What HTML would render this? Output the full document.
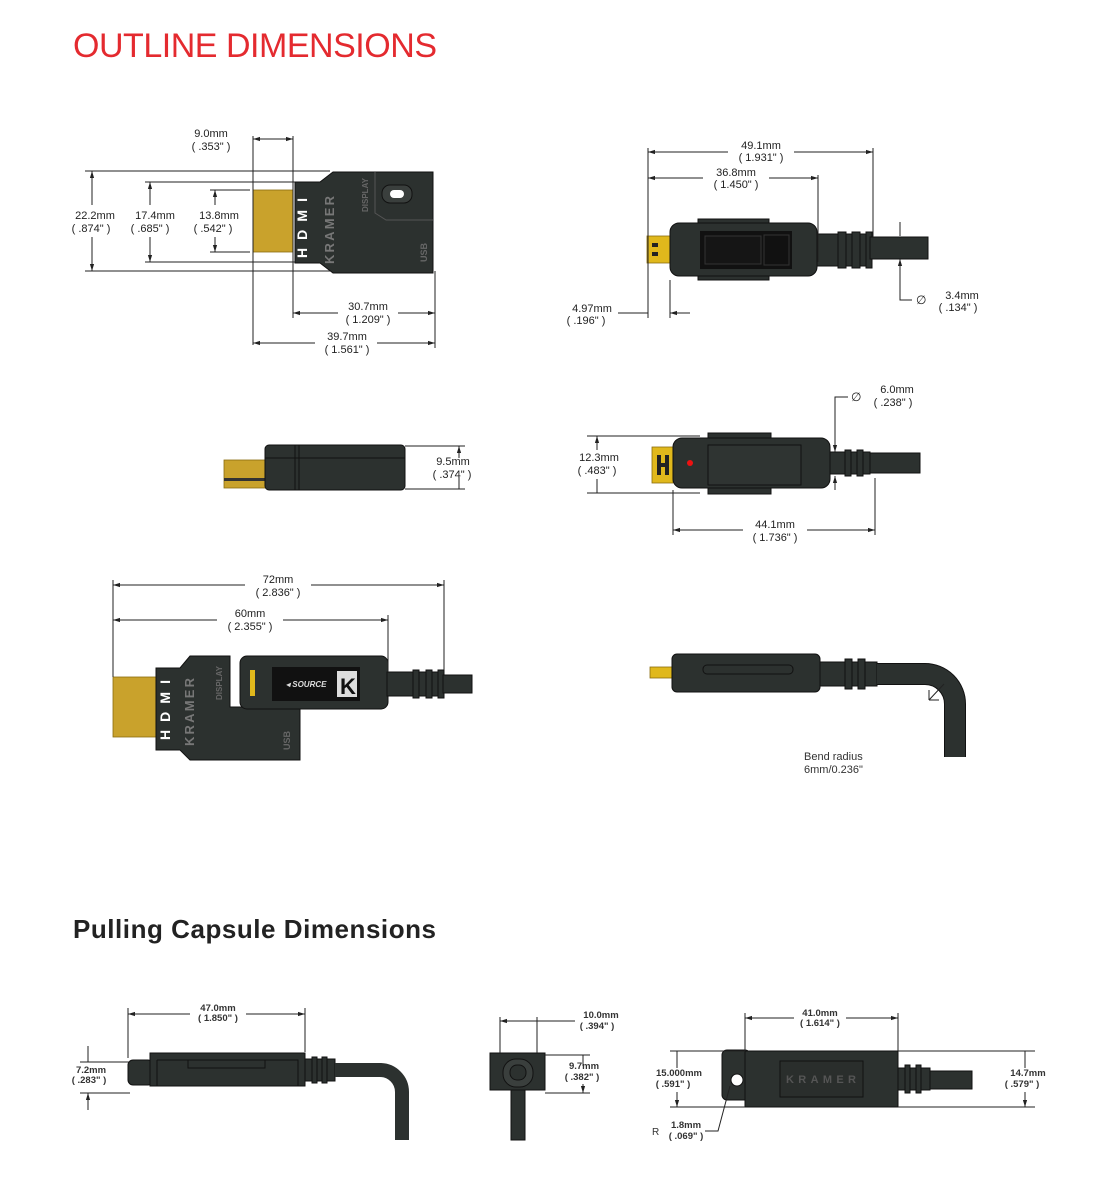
<!DOCTYPE html>
<html><head><meta charset="utf-8"><style>
html,body{margin:0;padding:0;background:#fff;}
svg{display:block;}
text{font-family:"Liberation Sans",sans-serif;fill:#222;}
.d{font-size:11px;text-anchor:middle;}
.s{font-size:9.5px;text-anchor:middle;font-weight:bold;fill:#333;}
.l{stroke:#222;stroke-width:1;fill:none;}
.b{fill:#2c312f;stroke:#111;stroke-width:1;}
.g{fill:#c9a22c;stroke:#8a6c10;stroke-width:0.8;}
</style></head><body>
<svg width="1109" height="1200" viewBox="0 0 1109 1200" xmlns="http://www.w3.org/2000/svg">
<defs>
<marker id="a" viewBox="0 0 10 10" refX="10" refY="5" markerWidth="7" markerHeight="7" orient="auto-start-reverse"><path d="M0,2 L10,5 L0,8 z" fill="#222"/></marker>
</defs>
<text x="73" y="57" style="font-size:34px;fill:#e42a2f" textLength="364">OUTLINE DIMENSIONS</text>
<text x="73" y="938" style="font-size:26px;font-weight:bold;fill:#222" textLength="363">Pulling Capsule Dimensions</text>

<!-- Diagram 1 -->
<rect x="253" y="190" width="40" height="62" class="g"/>
<path class="b" d="M295,182 H320 L333,172 H433 V273 H333 L320,263 H295 Z"/>
<path d="M375,172 V213 L386,220 H433" class="l" style="stroke:#555"/>
<rect x="382" y="185" width="30" height="18" rx="8" fill="#3a3f3d" stroke="#111"/>
<rect x="390" y="190" width="14" height="8" rx="4" fill="#fff"/>
<text x="0" y="0" transform="translate(307,258) rotate(-90)" style="font-size:14px;font-weight:bold;fill:#fff" textLength="60">HDMI</text>
<text x="0" y="0" transform="translate(334,264) rotate(-90)" style="font-size:13px;font-weight:bold;fill:#777" textLength="68">KRAMER</text>
<text x="0" y="0" transform="translate(368,212) rotate(-90)" style="font-size:8px;font-weight:bold;fill:#666">DISPLAY</text>
<text x="0" y="0" transform="translate(427,262) rotate(-90)" style="font-size:9px;font-weight:bold;fill:#666">USB</text>
<path class="l" d="M85,171 H330 M85,271 H330 M145,182 H295 M145,262 H295 M210,190 H250 M210,252 H250 M253,136 V345 M293,136 V318 M435,271 V348"/>
<path class="l" d="M92,171 V205 M92,237 V271" marker-start="url(#a)" marker-end="url(#a)"/>
<path class="l" d="M150,182 V205 M150,237 V262" marker-start="url(#a)" marker-end="url(#a)"/>
<path class="l" d="M215,190 V205 M215,237 V252" marker-start="url(#a)" marker-end="url(#a)"/>
<line x1="293" y1="313" x2="435" y2="313" class="l" marker-start="url(#a)" marker-end="url(#a)"/>
<line x1="253" y1="343" x2="435" y2="343" class="l" marker-start="url(#a)" marker-end="url(#a)"/>
<line x1="253" y1="139" x2="293" y2="139" class="l" marker-start="url(#a)" marker-end="url(#a)"/>
<text class="d" x="211" y="137">9.0mm</text><text class="d" x="211" y="150">( .353" )</text>
<text class="d" x="95" y="219">22.2mm</text><text class="d" x="91" y="232">( .874" )</text>
<text class="d" x="155" y="219">17.4mm</text><text class="d" x="150" y="232">( .685" )</text>
<text class="d" x="219" y="219">13.8mm</text><text class="d" x="213" y="232">( .542" )</text>
<rect x="338" y="304" width="60" height="26" fill="#fff"/>
<text class="d" x="368" y="310">30.7mm</text><text class="d" x="368" y="323">( 1.209" )</text>
<rect x="315" y="334" width="62" height="26" fill="#fff"/>
<text class="d" x="347" y="340">39.7mm</text><text class="d" x="347" y="353">( 1.561" )</text>

<!-- Diagram 2 -->
<rect x="647" y="236" width="23" height="27" class="g" style="fill:#e0b81c"/>
<rect x="652" y="243" width="6" height="4" fill="#222"/><rect x="652" y="252" width="6" height="4" fill="#222"/>
<rect x="698" y="219" width="71" height="61" class="b"/>
<rect x="670" y="223" width="147" height="53" rx="9" class="b"/>
<rect x="700" y="231" width="92" height="38" fill="#111"/>
<rect x="705" y="236" width="56" height="28" fill="#151515" stroke="#333"/>
<rect x="764" y="235" width="25" height="30" fill="#111" stroke="#333"/>
<path class="b" d="M817,234 H870 V266 H817 Z"/>
<rect x="838" y="232" width="8" height="36" class="b"/><rect x="852" y="232" width="8" height="36" class="b"/><rect x="866" y="232" width="6" height="36" class="b"/>
<rect x="870" y="237" width="58" height="22" class="b"/>
<path class="l" d="M648,148 V318 M670,280 V318 M818,175 V262 M873,148 V238"/>
<line x1="648" y1="152" x2="873" y2="152" class="l" marker-start="url(#a)" marker-end="url(#a)"/>
<line x1="648" y1="178" x2="818" y2="178" class="l" marker-start="url(#a)" marker-end="url(#a)"/>
<rect x="728" y="142" width="66" height="24" fill="#fff"/>
<text class="d" x="761" y="149">49.1mm</text><text class="d" x="761" y="161">( 1.931" )</text>
<rect x="703" y="168" width="66" height="24" fill="#fff"/>
<text class="d" x="736" y="176">36.8mm</text><text class="d" x="736" y="188">( 1.450" )</text>
<path class="l" d="M618,313 H648 M690,313 H670" marker-end="url(#a)"/>
<text class="d" x="592" y="312">4.97mm</text><text class="d" x="586" y="324">( .196" )</text>
<path class="l" d="M900,222 V236 M900,275 V259" marker-end="url(#a)"/>
<path class="l" d="M900,275 V300 H912"/>
<text x="916" y="304" style="font-size:12px">∅</text>
<text class="d" x="962" y="299">3.4mm</text><text class="d" x="958" y="311">( .134" )</text>

<!-- Diagram 3 -->
<rect x="224" y="460" width="42" height="28" class="g"/>
<rect x="224" y="478" width="42" height="3" fill="#333"/>
<rect x="265" y="445" width="140" height="45" rx="4" class="b"/>
<path d="M265,458 H405 M295,445 V490 M299,445 V490" stroke="#111"/>
<path class="l" d="M405,446 H465 M405,489 H465"/>
<path class="l" d="M459,446 V458 M459,489 V477" marker-start="url(#a)"/>
<text class="d" x="453" y="465">9.5mm</text><text class="d" x="452" y="478">( .374" )</text>

<!-- Diagram 4 -->
<rect x="652" y="447" width="21" height="36" class="g" style="fill:#e0b81c"/>
<rect x="657" y="455" width="4" height="20" fill="#222"/><rect x="657" y="463" width="12" height="4" fill="#222"/><rect x="665" y="455" width="4" height="20" fill="#222"/>
<rect x="708" y="433" width="63" height="61" class="b"/>
<rect x="673" y="438" width="157" height="50" rx="9" class="b"/>
<rect x="708" y="445" width="93" height="40" fill="#2f3432" stroke="#111"/>
<circle cx="690" cy="463" r="3" fill="#e11"/>
<rect x="830" y="452" width="40" height="22" class="b"/>
<rect x="845" y="450" width="6" height="26" class="b"/><rect x="857" y="450" width="6" height="26" class="b"/>
<rect x="870" y="453" width="50" height="20" class="b"/>
<path class="l" d="M587,436 H700 M587,493 H700 M673,490 V535 M875,478 V535"/>
<path class="l" d="M597,436 V450 M597,493 V479" marker-start="url(#a)"/>
<text class="d" x="599" y="461">12.3mm</text><text class="d" x="597" y="474">( .483" )</text>
<line x1="673" y1="530" x2="875" y2="530" class="l" marker-start="url(#a)" marker-end="url(#a)"/>
<rect x="743" y="519" width="64" height="26" fill="#fff"/>
<text class="d" x="775" y="528">44.1mm</text><text class="d" x="775" y="541">( 1.736" )</text>
<path class="l" d="M848,397 H835 V452" marker-end="url(#a)"/>
<path class="l" d="M835,490 V476" marker-end="url(#a)"/>
<text x="851" y="401" style="font-size:12px">∅</text>
<text class="d" x="897" y="393">6.0mm</text><text class="d" x="893" y="406">( .238" )</text>

<!-- Diagram 5 -->
<rect x="113" y="677" width="43" height="60" class="g"/>
<path class="b" d="M156,668 H180 L190,656 H230 V707 H300 V760 H190 L180,750 H156 Z"/>
<rect x="240" y="656" width="148" height="53" rx="7" class="b"/>
<rect x="272" y="667" width="88" height="34" fill="#111"/>
<rect x="250" y="670" width="5" height="26" fill="#e0b81c"/>
<text x="286" y="687" style="font-size:8px;font-weight:bold;font-style:italic;fill:#ddd">◂ SOURCE</text>
<rect x="337" y="671" width="20" height="26" fill="#ddd"/>
<text x="340" y="694" style="font-size:22px;font-weight:bold;fill:#111">K</text>
<text x="0" y="0" transform="translate(170,740) rotate(-90)" style="font-size:14px;font-weight:bold;fill:#fff" textLength="60">HDMI</text>
<text x="0" y="0" transform="translate(194,746) rotate(-90)" style="font-size:13px;font-weight:bold;fill:#777" textLength="68">KRAMER</text>
<text x="0" y="0" transform="translate(222,700) rotate(-90)" style="font-size:8px;font-weight:bold;fill:#666">DISPLAY</text>
<text x="0" y="0" transform="translate(290,750) rotate(-90)" style="font-size:9px;font-weight:bold;fill:#666">USB</text>
<rect x="387" y="672" width="56" height="24" class="b"/>
<rect x="413" y="670" width="6" height="28" class="b"/><rect x="426" y="670" width="6" height="28" class="b"/><rect x="438" y="670" width="6" height="28" class="b"/>
<rect x="443" y="675" width="29" height="18" class="b"/>
<path class="l" d="M113,580 V677 M388,615 V672 M444,580 V670"/>
<line x1="113" y1="585" x2="444" y2="585" class="l" marker-start="url(#a)" marker-end="url(#a)"/>
<line x1="113" y1="620" x2="388" y2="620" class="l" marker-start="url(#a)" marker-end="url(#a)"/>
<rect x="245" y="574" width="66" height="26" fill="#fff"/>
<text class="d" x="278" y="583">72mm</text><text class="d" x="278" y="596">( 2.836" )</text>
<rect x="217" y="609" width="66" height="26" fill="#fff"/>
<text class="d" x="250" y="617">60mm</text><text class="d" x="250" y="630">( 2.355" )</text>

<!-- Diagram 6 -->
<rect x="650" y="667" width="22" height="11" class="g" style="fill:#e0b81c"/>
<rect x="672" y="654" width="148" height="38" rx="5" class="b"/>
<rect x="703" y="665" width="90" height="9" rx="4" fill="none" stroke="#111"/>
<rect x="820" y="662" width="57" height="24" class="b"/>
<rect x="845" y="659" width="7" height="30" class="b"/><rect x="858" y="659" width="7" height="30" class="b"/>
<path d="M877,674 H925 A30,30 0 0 1 955,704 V757" stroke="#111" stroke-width="22" fill="none"/>
<path d="M877,674 H925 A30,30 0 0 1 955,704 V757" stroke="#2c312f" stroke-width="20" fill="none"/>
<path class="l" d="M944,684 L929,700 M929,700 V690 M929,700 H939"/>
<text x="804" y="760" style="font-size:11px;fill:#333">Bend radius</text>
<text x="804" y="773" style="font-size:11px;fill:#333">6mm/0.236"</text>

<!-- Capsule 1 -->
<rect x="128" y="1060" width="25" height="25" rx="5" class="b"/>
<rect x="150" y="1053" width="155" height="33" class="b"/>
<path d="M157,1060 H298 V1086 M157,1060 V1086" stroke="#111" fill="none"/>
<path d="M188,1060 V1068 H265 V1060" stroke="#111" fill="none"/>
<rect x="305" y="1059" width="30" height="22" class="b"/>
<rect x="312" y="1057" width="5" height="26" class="b"/><rect x="322" y="1057" width="5" height="26" class="b"/>
<path d="M335,1070 H380 A22,22 0 0 1 402,1092 V1140" stroke="#2c312f" stroke-width="14" fill="none"/>
<path class="l" d="M128,1008 V1058 M305,1008 V1052 M80,1062 H130 M80,1093 H130"/>
<line x1="128" y1="1014" x2="305" y2="1014" class="l" marker-start="url(#a)" marker-end="url(#a)"/>
<rect x="190" y="1004" width="56" height="22" fill="#fff"/>
<text class="s" x="218" y="1011">47.0mm</text><text class="s" x="218" y="1021">( 1.850" )</text>
<path class="l" d="M88,1046 V1062 M88,1110 V1093" marker-end="url(#a)"/>
<text class="s" x="91" y="1073">7.2mm</text><text class="s" x="89" y="1083">( .283" )</text>

<!-- Capsule 2 -->
<rect x="490" y="1053" width="55" height="37" class="b"/>
<rect x="503" y="1059" width="30" height="28" rx="13" fill="#3a3f3d" stroke="#111"/>
<rect x="510" y="1065" width="16" height="15" rx="7" fill="#2c312f" stroke="#111"/>
<rect x="511" y="1090" width="14" height="50" class="b"/>
<path class="l" d="M500,1017 V1053 M537,1017 V1053 M545,1055 H590 M545,1093 H590"/>
<path class="l" d="M500,1021 H537 H575" marker-start="url(#a)"/>
<text class="s" x="601" y="1018">10.0mm</text><text class="s" x="597" y="1029">( .394" )</text>
<path class="l" d="M583,1066 V1055 M583,1084 V1093" marker-end="url(#a)"/>
<text class="s" x="584" y="1069">9.7mm</text><text class="s" x="582" y="1080">( .382" )</text>

<!-- Capsule 3 -->
<rect x="722" y="1050" width="28" height="50" rx="5" class="b"/>
<circle cx="737" cy="1080" r="6" fill="#fff" stroke="#111"/>
<rect x="745" y="1051" width="153" height="56" class="b"/>
<rect x="780" y="1061" width="83" height="36" fill="#2a2e2c" stroke="#111"/>
<text x="821" y="1083" style="font-size:11px;font-weight:bold;fill:#555;text-anchor:middle" textLength="70">KRAMER</text>
<rect x="898" y="1068" width="32" height="22" class="b"/>
<rect x="905" y="1065" width="5" height="28" class="b"/><rect x="916" y="1065" width="5" height="28" class="b"/>
<rect x="930" y="1071" width="42" height="18" class="b"/>
<path class="l" d="M745,1013 V1051 M898,1013 V1051 M670,1051 H745 M670,1107 H745 M898,1051 H1035 M898,1107 H1035"/>
<line x1="745" y1="1018" x2="898" y2="1018" class="l" marker-start="url(#a)" marker-end="url(#a)"/>
<rect x="794" y="1009" width="52" height="22" fill="#fff"/>
<text class="s" x="820" y="1016">41.0mm</text><text class="s" x="820" y="1026">( 1.614" )</text>
<path class="l" d="M677,1068 V1051 M677,1092 V1107" marker-end="url(#a)"/>
<text class="s" x="679" y="1076">15.000mm</text><text class="s" x="673" y="1087">( .591" )</text>
<path class="l" d="M1025,1068 V1051 M1025,1092 V1107" marker-end="url(#a)"/>
<text class="s" x="1028" y="1076">14.7mm</text><text class="s" x="1022" y="1087">( .579" )</text>
<path class="l" d="M705,1131 H718 L730,1086"/>
<text x="652" y="1135" style="font-size:10px;fill:#333">R</text>
<text class="s" x="686" y="1128">1.8mm</text><text class="s" x="686" y="1139">( .069" )</text>
</svg>
</body></html>
